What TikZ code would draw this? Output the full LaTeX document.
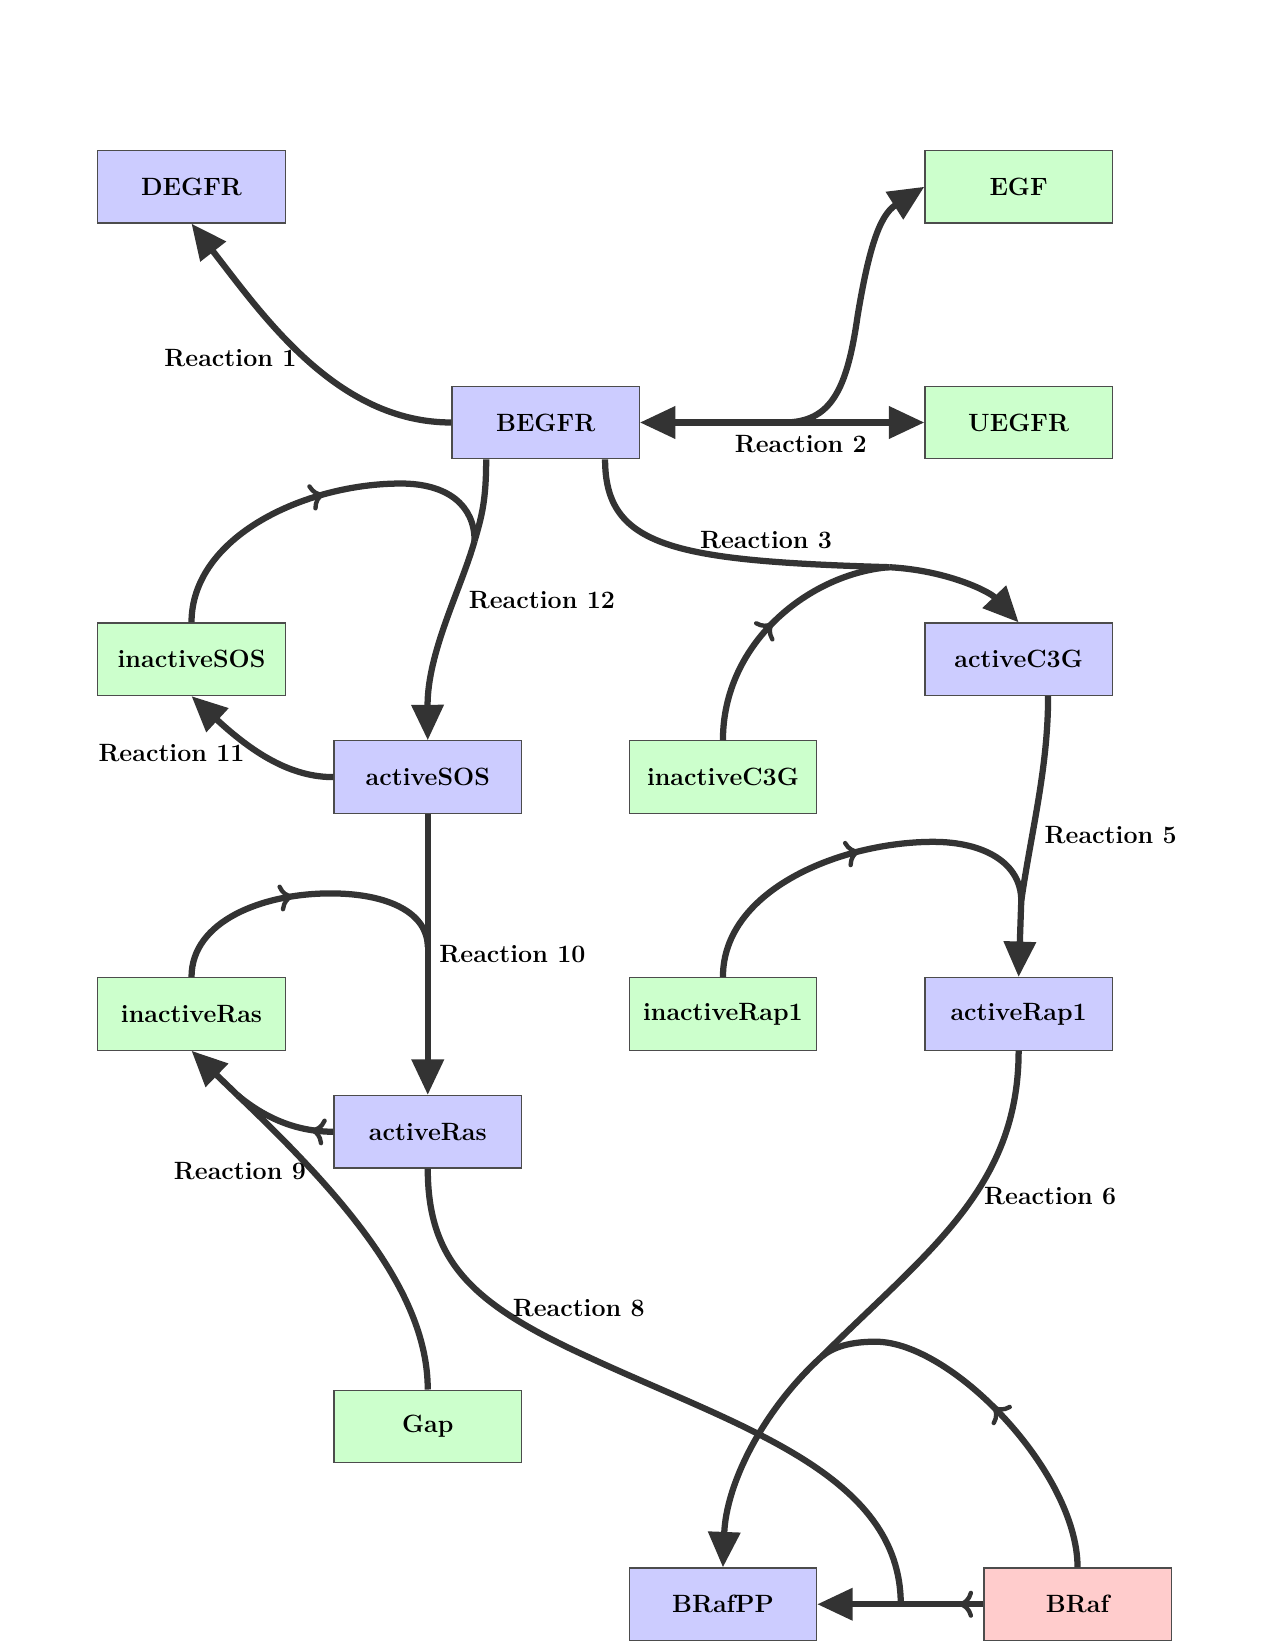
\documentclass[tikz,border=0pt]{standalone}
\usetikzlibrary{arrows.meta,decorations.markings,calc}
\definecolor{edgegray}{HTML}{333333}
\definecolor{bluefill}{HTML}{CCCCFF}
\definecolor{greenfill}{HTML}{CCFFCC}
\definecolor{redfill}{HTML}{FFCCCC}
\begin{document}
\begin{tikzpicture}[x=0.50495pt,y=-0.50495pt,
  species/.style={rectangle,draw=black!70,line width=0.6pt,minimum width=89.9pt,minimum height=34.8pt,inner sep=0pt,font=\fontsize{12}{14}\selectfont\bfseries},
  bluesp/.style={species,fill=bluefill},
  greensp/.style={species,fill=greenfill},
  redsp/.style={species,fill=redfill},
  rxn/.style={draw=edgegray,line width=3pt},
  prod/.style={rxn,-{Triangle[length=17pt,width=15pt]}},
  midarr/.style={postaction={decorate},decoration={markings,mark=at position #1 with {\arrow{Computer Modern Rightarrow[length=7pt,width=13pt,line width=2.1pt,round]}}}},
  rlabel/.style={font=\fontsize{12}{14}\selectfont\bfseries,inner sep=0pt}]
\useasboundingbox (0,0) rectangle (1212,1568);

% species
\node[bluesp] (DEGFR) at (182,177.5) {DEGFR};
\node[greensp] (EGF) at (968,177.5) {EGF};
\node[bluesp] (BEGFR) at (518.5,401.5) {BEGFR};
\node[greensp] (UEGFR) at (968,401.5) {UEGFR};
\node[greensp] (inactiveSOS) at (182,626.5) {inactiveSOS};
\node[bluesp] (activeC3G) at (968,626.5) {activeC3G};
\node[bluesp] (activeSOS) at (406.5,738.5) {activeSOS};
\node[greensp] (inactiveC3G) at (687,738.5) {inactiveC3G};
\node[greensp] (inactiveRas) at (182,963.5) {inactiveRas};
\node[greensp] (inactiveRap1) at (687,963.5) {inactiveRap1};
\node[bluesp] (activeRap1) at (968,963.5) {activeRap1};
\node[bluesp] (activeRas) at (406.5,1075.5) {activeRas};
\node[greensp] (Gap) at (406.5,1355.5) {Gap};
\node[bluesp] (BRafPP) at (687,1524.5) {BRafPP};
\node[redsp] (BRaf) at (1024,1524.5) {BRaf};

% attachment points
\coordinate (BEGFRsl) at ($(BEGFR.south)+(-56.5,0)$);
\coordinate (BEGFRsr) at ($(BEGFR.south)+(56.5,0)$);
\coordinate (activeC3Gs) at ($(activeC3G.south)+(28,0)$);

% reaction centres
\coordinate (r2) at (745,401.5);
\coordinate (r3) at (845,539);
\coordinate (r12) at (451,514);
\coordinate (r10) at (406.5,900);
\coordinate (r9) at (226,1041);
\coordinate (r5) at (970.5,856);
\coordinate (r6) at (781,1289);
\coordinate (r8) at (856,1524.5);

% Reaction 1
\draw[prod] (BEGFR.west) .. controls (320,401.5) and (250,300) .. (DEGFR.south);
% Reaction 2
\draw[prod] (r2) -- (BEGFR.east);
\draw[prod] (r2) -- (UEGFR.west);
\draw[prod] (r2) .. controls (790,401.5) and (805,370) .. (815,300) .. controls (825,240) and (835,205) .. (EGF.west);
% Reaction 3
\draw[rxn] (BEGFRsr) .. controls (575,520) and (640,533) .. (r3);
\draw[rxn,midarr=0.5] (inactiveC3G.north) .. controls (687,610) and (770,545) .. (r3);
\draw[prod] (r3) .. controls (900,542) and (940,562) .. (activeC3G.north);
% Reaction 12
\draw[rxn] (BEGFRsl) .. controls (462,475) and (458,490) .. (r12);
\draw[rxn,midarr=0.52] (inactiveSOS.north) .. controls (182,510) and (290,459.5) .. (381,459.5) .. controls (425,459.5) and (451,480) .. (r12);
\draw[prod] (r12) .. controls (438,560) and (406,620) .. (activeSOS.north);
% Reaction 11
\draw[prod] (activeSOS.west) .. controls (280,738.5) and (245,720) .. (inactiveSOS.south);
% Reaction 10
\draw[rxn] (activeSOS.south) -- (r10);
\draw[rxn,midarr=0.47] (inactiveRas.north) .. controls (182,875) and (250,849) .. (314,849) .. controls (370,849) and (406.5,868) .. (r10);
\draw[prod] (r10) -- (activeRas.north);
% Reaction 9
\draw[rxn,midarr=0.22] (activeRas.west) .. controls (285,1075.5) and (255,1065) .. (r9);
\draw[rxn] (Gap.north) .. controls (406.5,1230) and (330,1140) .. (r9);
\draw[prod] (r9) -- (inactiveRas.south);
% Reaction 5
\draw[rxn] (activeC3Gs) .. controls (996,730) and (980,790) .. (r5);
\draw[rxn,midarr=0.51] (inactiveRap1.north) .. controls (687,845) and (800,800) .. (887,800) .. controls (935,800) and (970.5,820) .. (r5);
\draw[prod] (r5) -- (activeRap1.north);
% Reaction 6
\draw[rxn] (activeRap1.south) .. controls (968,1130) and (880,1190) .. (r6);
\draw[rxn,midarr=0.49] (BRaf.north) .. controls (1024,1400) and (905,1275) .. (832,1275) .. controls (808,1275) and (792,1280) .. (r6);
\draw[prod] (r6) .. controls (725,1340) and (690,1410) .. (BRafPP.north);
% Reaction 8
\draw[rxn] (activeRas.south) .. controls (406.5,1200) and (450,1240) .. (560,1290) .. controls (700,1355) and (856,1400) .. (r8);
\draw[rxn,midarr=0.3] (BRaf.west) -- (r8);
\draw[prod] (r8) -- (BRafPP.east);

% labels
\node[rlabel] (L1) at (219,340) {Reaction 1};
\node[rlabel] (L2) at (761,422) {Reaction 2};
\node[rlabel] (L3) at (728,513) {Reaction 3};
\node[rlabel] (L12) at (515,570) {Reaction 12};
\node[rlabel] (L11) at (163,716) {Reaction 11};
\node[rlabel] (L10) at (487,907) {Reaction 10};
\node[rlabel] (L5) at (1055.5,794) {Reaction 5};
\node[rlabel] (L6) at (998,1137) {Reaction 6};
\node[rlabel] (L9) at (228,1113) {Reaction 9};
\node[rlabel] (L8) at (550,1243) {Reaction 8};
\end{tikzpicture}
\end{document}
